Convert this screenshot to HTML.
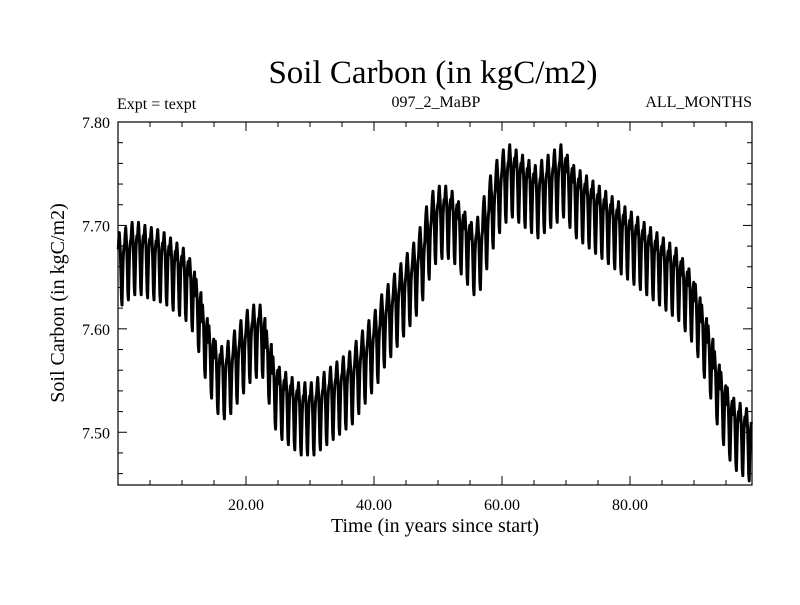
<!DOCTYPE html>
<html><head><meta charset="utf-8">
<style>
body{margin:0;background:#fff;}
svg text{font-family:"Liberation Serif",serif;fill:#000;}
</style></head>
<body>
<svg id="chart" width="800" height="600" xmlns="http://www.w3.org/2000/svg">
<rect width="800" height="600" fill="#fff"/>
<text x="433" y="83" font-size="33" text-anchor="middle">Soil Carbon (in kgC/m2)</text>
<text x="117" y="109" font-size="16">Expt = texpt</text>
<text x="436" y="107" font-size="16" text-anchor="middle">097_2_MaBP</text>
<text x="752" y="107" font-size="16" text-anchor="end">ALL_MONTHS</text>
<text transform="translate(64,303) rotate(-90)" font-size="20" text-anchor="middle">Soil Carbon (in kgC/m2)</text>
<text x="435" y="532" font-size="20" text-anchor="middle">Time (in years since start)</text>
<g id="axes"></g>
<g id="series"></g>
</svg>
<script>
const xTicks=[20,40,60,80];
const xTickLabels=["20.00","40.00","60.00","80.00"];
const yTicks=[7.5,7.6,7.7,7.8];
const yTickLabels=["7.50","7.60","7.70","7.80"];
const annualMean=[7.665,7.67,7.675,7.675,7.672,7.67,7.668,7.665,7.66,7.655,
7.65,7.64,7.62,7.595,7.575,7.56,7.555,7.56,7.57,7.58,
7.59,7.595,7.595,7.57,7.545,7.535,7.53,7.525,7.52,7.52,
7.52,7.525,7.53,7.535,7.54,7.545,7.55,7.56,7.57,7.58,
7.59,7.605,7.615,7.625,7.635,7.645,7.655,7.67,7.69,7.705,
7.71,7.71,7.705,7.695,7.685,7.675,7.68,7.7,7.72,7.735,
7.745,7.75,7.745,7.74,7.735,7.73,7.735,7.74,7.745,7.75,
7.74,7.73,7.725,7.72,7.715,7.71,7.705,7.70,7.695,7.69,
7.685,7.68,7.675,7.67,7.665,7.66,7.655,7.65,7.64,7.63,
7.615,7.595,7.575,7.55,7.53,7.515,7.505,7.50,7.495];
const seasonalAnomaly=[0.012,0.022,0.028,0.018,0.008,-0.012,-0.035,-0.042,-0.02,0.0,0.01,0.015];
const X0=118,X1=752,Y0=122,Y1=485,xMin=0,xMax=99.06,yMin=7.449,yMax=7.80;
const sx=v=>X0+(v-xMin)/(xMax-xMin)*(X1-X0);
const sy=v=>Y1-(v-yMin)/(yMax-yMin)*(Y1-Y0);
const NS="http://www.w3.org/2000/svg";
const axes=document.getElementById('axes');
function mk(tag,attrs,parent){const e=document.createElementNS(NS,tag);for(const k in attrs)e.setAttribute(k,attrs[k]);parent.appendChild(e);return e;}
const frame=mk('rect',{x:X0,y:Y0,width:X1-X0,height:Y1-Y0,fill:'none',stroke:'#000','stroke-width':1.2},axes);


for(let v=5;v<xMax;v+=5){const major=v%20===0;const x=sx(v);
const t1=mk('line',{x1:x,x2:x,y1:Y1,y2:Y1-(major?9:5),stroke:'#000'},axes);


const t2=mk('line',{x1:x,x2:x,y1:Y0,y2:Y0+(major?9:5),stroke:'#000'},axes);

}
xTicks.forEach((v,i)=>{const t=mk('text',{x:sx(v),y:Y1+25,'font-size':16,'text-anchor':'middle'},axes);t.textContent=xTickLabels[i];

});
for(let k=0;k<=17;k++){const v=7.46+k*0.02;if(v>yMax+1e-6)break;const y=sy(v);const major=Math.abs(v*10-Math.round(v*10))<1e-6;
const t1=mk('line',{x1:X0,x2:X0+(major?9:5),y1:y,y2:y,stroke:'#000'},axes);


const t2=mk('line',{x1:X1,x2:X1-(major?9:5),y1:y,y2:y,stroke:'#000'},axes);

}
yTicks.forEach((v,i)=>{const t=mk('text',{x:X0-8,y:sy(v)+6,'font-size':16,'text-anchor':'end'},axes);t.textContent=yTickLabels[i];

});
let d='';
annualMean.forEach((m,yr)=>{seasonalAnomaly.forEach((a,mo)=>{const t=yr+(mo+0.5)/12;d+=(d?'L':'M')+sx(t).toFixed(2)+','+sy(m+a).toFixed(2);});});
const line=mk('path',{d:d,fill:'none',stroke:'#000','stroke-width':3,'stroke-linejoin':'round'},document.getElementById('series'));


</script>
</body></html>
